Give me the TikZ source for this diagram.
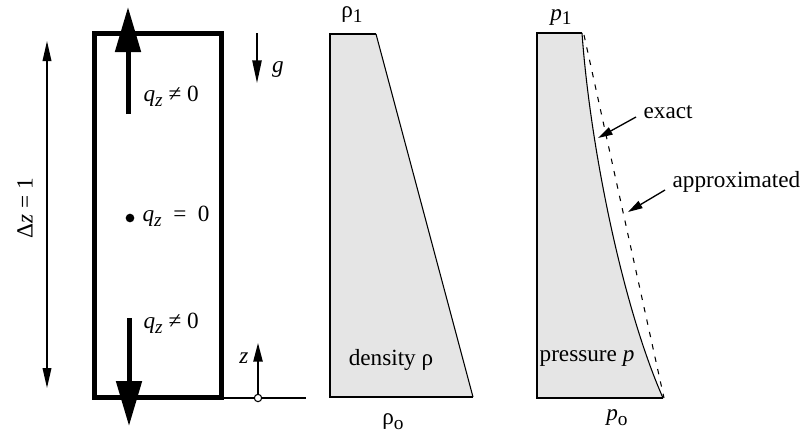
\documentclass[tikz,border=0pt]{standalone}
\usepackage{fontspec}
\setmainfont{Liberation Serif}
\usetikzlibrary{arrows.meta,positioning,calc}
\definecolor{clrFill}{RGB}{229,229,229}
\newcommand{\lowsub}[1]{\raisebox{-0.45ex}{\fontsize{14.5}{15}\selectfont #1}}
\newcommand{\qz}{\textit{q}\lowsub{\textit{z}}}
\tikzset{
  wall/.style={line width=3.75pt},
  flux/.style={line width=3.75pt,-{Triangle[length=33.75pt,width=18.75pt]}},
  guide/.style={line width=1.1pt},
  thinarrow/.style={line width=1.1pt,-{Triangle[length=13pt,width=6.5pt]}},
  pointer/.style={line width=1pt,-{Triangle[length=11pt,width=6pt]}},
  lbl/.style={inner sep=1pt},
  profile/.style={fill=clrFill,draw=none},
  edgeline/.style={line width=1.5pt},
  slope/.style={line width=0.8pt},
  dot/.style={circle,fill=black,inner sep=0pt,minimum size=6.5pt},
  origin/.style={circle,draw=black,fill=white,line width=0.8pt,inner sep=0pt,minimum size=5.5pt}
}
\begin{document}
\begin{tikzpicture}[x=0.75pt,y=-0.75pt,font=\fontsize{17.4}{20}\selectfont]
  \useasboundingbox (0,0) rectangle (806,437);

  % control volume of height one
  \coordinate (cellSW) at (94,397);
  \coordinate (cellNE) at (221,33);
  \draw[wall] (cellSW) rectangle (cellNE);

  \coordinate (upfrom) at (128,114);
  \coordinate (upto) at (128,7);
  \coordinate (downfrom) at (129,318);
  \coordinate (downto) at (129,426);
  \draw[flux] (upfrom) -- (upto);
  \draw[flux] (downfrom) -- (downto);

  \node[lbl,anchor=west] (qtop) at (142,96) {\qz\ ≠ 0};
  \node[dot] (mid) at (130,218) {};
  \node[lbl,anchor=west] (qmid) at (141,216) {\qz\ \ =\ \ 0};
  \node[lbl,anchor=west] (qbot) at (142,323) {\qz\ ≠ 0};

  % height marker
  \coordinate (dztop) at (47,41);
  \coordinate (dzbot) at (47,388);
  \draw[line width=1.1pt,{Triangle[length=15pt,width=6.5pt]}-{Triangle[length=15pt,width=6.5pt]}] (dztop) -- (dzbot);
  \node[lbl,rotate=90] (dzlabel) at (25,208) {Δ\textit{z} = 1};

  % gravity and axis
  \coordinate (gfrom) at (257,33);
  \coordinate (gto) at (257,83);
  \draw[thinarrow,-{Triangle[length=17pt,width=7pt]}] (gfrom) -- (gto);
  \node[lbl] (glabel) at (278,70) {\textit{g}};

  \coordinate (baseend) at (306,398);
  \node[origin] (zero) at (258,398) {};
  \coordinate (ztip) at (258,343);
  \draw[guide] (cellSW -| cellNE) ++(0,1) -- (zero.west);
  \draw[guide] (zero.east) -- (baseend);
  \draw[thinarrow,-{Triangle[length=14pt,width=7pt]}] (zero.north) -- (ztip);
  \node[lbl] (zlabel) at (244,358) {\textit{z}};

  % density profile
  \coordinate (rhoSW) at (330,397);
  \coordinate (rhoNW) at (330,34);
  \coordinate (rhoNE) at (376,34);
  \coordinate (rhoSE) at (473,397);
  \fill[profile] (rhoSW) -- (rhoNW) -- (rhoNE) -- (rhoSE) -- cycle;
  \draw[edgeline] (rhoNE) -- (rhoNW) -- (rhoSW) -- (rhoSE);
  \draw[slope] (rhoNE) -- (rhoSE);
  \node[lbl] (rhotop) at (352,15) {ρ\lowsub{1}};
  \node[lbl] (rhobot) at (393,422) {ρ\lowsub{o}};
  \node[lbl] (rholabel) at (391,360) {density ρ};

  % pressure profile
  \coordinate (pSW) at (537,398);
  \coordinate (pNW) at (537,33);
  \coordinate (pNE) at (582,33);
  \coordinate (pSE) at (663,398);
  \fill[profile] (pSW) -- (pNW) -- (pNE) .. controls (590,145) and (622,305) .. (pSE) -- cycle;
  \draw[edgeline] (pNE) -- (pNW) -- (pSW) -- (pSE);
  \draw[slope] (pNE) .. controls (590,145) and (622,305) .. (pSE);
  \draw[slope,dash pattern=on 4pt off 5.5pt] ($(pNE)+(2,2)$) -- ($(pSE)+(1,0)$);
  \node[lbl] (ptop) at (561,17) {\textit{p}\lowsub{1}};
  \node[lbl] (pbot) at (617,418) {\textit{p}\lowsub{o}};
  \node[lbl] (plabel) at (587,358) {pressure \textit{p}};

  \node[lbl,anchor=west] (exact) at (642,112) {exact};
  \node[lbl,anchor=west] (approx) at (671,182) {approximated};
  \coordinate (exacttip) at (598,138);
  \coordinate (approxtip) at (628,212);
  \draw[pointer] (exact.west) ++(-6,5) -- (exacttip);
  \draw[pointer] (approx.west) ++(-6,8) -- (approxtip);
\end{tikzpicture}
\end{document}
